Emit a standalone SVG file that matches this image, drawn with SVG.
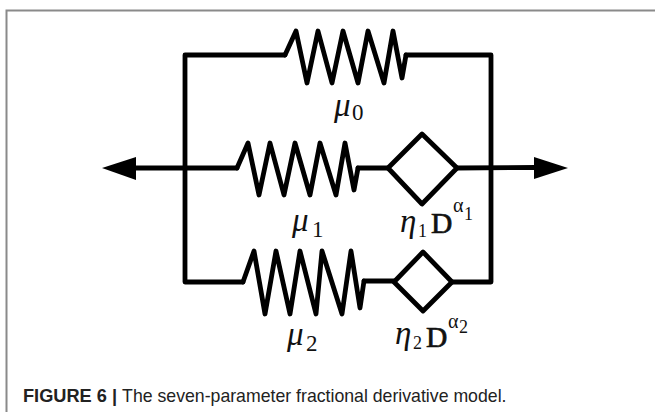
<svg xmlns="http://www.w3.org/2000/svg" width="655" height="412" viewBox="0 0 655 412">
<style>
.w{fill:none;stroke:#000;stroke-width:4.800;stroke-linejoin:round;stroke-linecap:round}
.t{font-family:"Liberation Serif",serif;fill:#111}
.g{font-size:33px;font-style:italic}
.n{font-size:23px}
.b{font-size:18px}
.s{font-size:18px}
.d{font-size:29.500px;stroke:#111;stroke-width:.7}
.a{font-size:20px}
</style>
<rect width="655" height="412" fill="#fff"/>
<path d="M6.500 412V10.500H655" fill="none" stroke="#8a8a8a" stroke-width="2"/>
<g id="connectors">
<path class="w" d="M285 55H185V282H243"/>
<path class="w" d="M406 55H491V282H452"/>
<path class="w" d="M133 168H237"/>
<path class="w" d="M358 168H388"/>
<path class="w" d="M457 168L536 167.500"/>
<path class="w" d="M364 281H394"/>
<path d="M102 168L136 157V180Z" fill="#000"/>
<path d="M568 168L534 157V179Z" fill="#000"/>
</g>
<g id="spring-mu0">
<path class="w" d="M285 55L296 31L307 83L318 31L332 83L343 31L358 83L368 31L384 83L393 31L402 78L406 55"/>
<text class="t g" x="334" y="116">μ</text><text class="t n" x="352" y="120">0</text>
</g>
<g id="spring-mu1">
<path class="w" d="M237 168L248 143L259 195L270 143L284 195L295 143L310 195L320 143L336 195L345 143L354 190L358 168"/>
<text class="t g" x="292" y="231">μ</text><text class="t n" x="312" y="237">1</text>
</g>
<g id="damper-eta1">
<path class="w" d="M388 168L422 134L457 168L422 204Z"/>
<text class="t g" x="400" y="232">η</text><text class="t b" x="418" y="237">1</text><text class="t d" x="431" y="233">D</text><text class="t a" x="453" y="212">α</text><text class="t s" x="464" y="220">1</text>
</g>
<g id="spring-mu2">
<path class="w" d="M243 282L254 251L265 314L276 251L290 314L300 251L316 314L322 251L342 314L351 251L360 308L364 281"/>
<text class="t g" x="287" y="345">μ</text><text class="t n" x="306" y="351">2</text>
</g>
<g id="damper-eta2">
<path class="w" d="M394 282L423 252L452 282L423 311Z"/>
<text class="t g" x="395" y="344">η</text><text class="t b" x="413" y="349">2</text><text class="t d" x="426" y="347">D</text><text class="t a" x="448" y="328">α</text><text class="t s" x="459" y="333">2</text>
</g>
<text x="23" y="402" font-family="'Liberation Sans',Arial,sans-serif" font-size="17.700" fill="#222"><tspan font-weight="bold" font-size="18.200">FIGURE 6 | </tspan>The seven-parameter fractional derivative model.</text>
</svg>
